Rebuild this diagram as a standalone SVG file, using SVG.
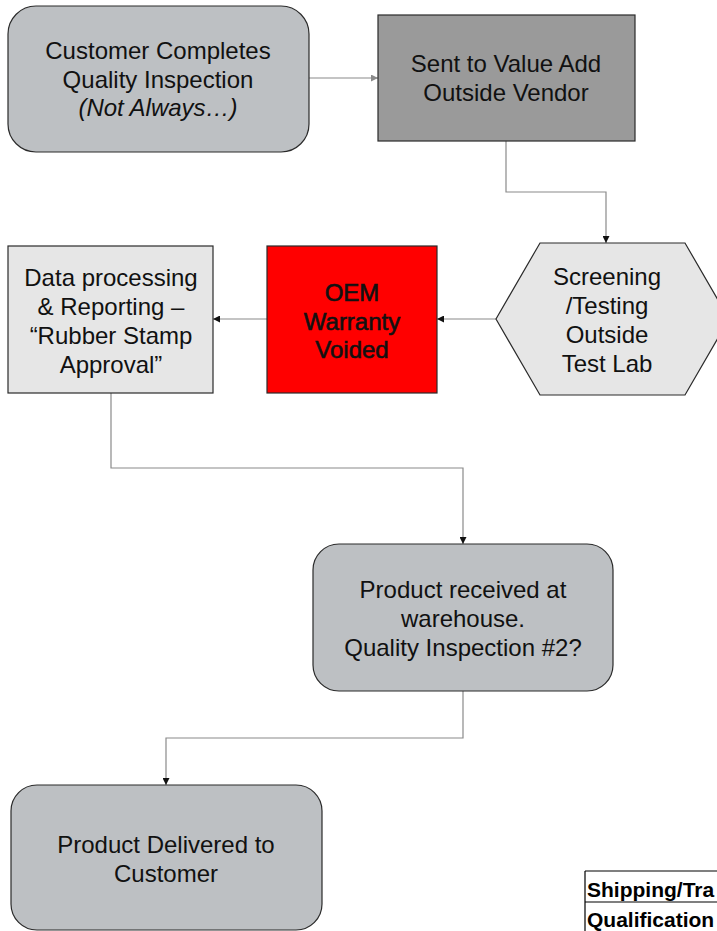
<svg xmlns="http://www.w3.org/2000/svg" width="717" height="931" viewBox="0 0 717 931">
<style>
.t{font-family:"Liberation Sans",Arial,sans-serif;font-size:24px;fill:#111;text-anchor:middle}
.n{stroke:#2a2a2a;stroke-width:1.2}
.c{fill:none;stroke:#8a8a8a;stroke-width:1.2}
.tb{font-family:"Liberation Sans",Arial,sans-serif;font-size:21px;font-weight:bold;fill:#000}
</style>
<defs>
<marker id="a" viewBox="0 0 10 10" refX="10" refY="5" markerWidth="7" markerHeight="7" markerUnits="userSpaceOnUse" orient="auto">
<path d="M0,0 L10,5 L0,10 z" fill="#111"/>
</marker>
<marker id="ag" viewBox="0 0 10 10" refX="10" refY="5" markerWidth="7" markerHeight="7" markerUnits="userSpaceOnUse" orient="auto">
<path d="M0,0 L10,5 L0,10 z" fill="#8a8a8a"/>
</marker>
</defs>
<rect width="717" height="931" fill="#fff"/>
<g id="connectors">
<path class="c" d="M309,78 L378,78" marker-end="url(#ag)"/>
<path class="c" d="M506,141 V192 H606 V243" marker-end="url(#a)"/>
<path class="c" d="M496,319 H437" marker-end="url(#a)"/>
<path class="c" d="M267,319 H213" marker-end="url(#a)"/>
<path class="c" d="M111,393 V468 H463 V544" marker-end="url(#a)"/>
<path class="c" d="M463,691 V738 H166 V785" marker-end="url(#a)"/>
</g>
<g id="customer-inspection">
<rect class="n" x="8" y="6" width="301" height="146" rx="28" fill="#bdc0c3"/>
<text class="t" x="158" y="59">Customer Completes</text>
<text class="t" x="158" y="88">Quality Inspection</text>
<text class="t" x="158" y="116" font-style="italic">(Not Always…)</text>
</g>
<g id="value-add-vendor">
<rect class="n" x="378" y="15" width="257" height="126" fill="#9a9a9a"/>
<text class="t" x="506" y="72">Sent to Value Add</text>
<text class="t" x="506" y="101">Outside Vendor</text>
</g>
<g id="screening">
<polygon class="n" points="540,243 685,243 729,319 685,395 540,395 496,319" fill="#e6e6e6"/>
<text class="t" x="607" y="285">Screening</text>
<text class="t" x="607" y="314">/Testing</text>
<text class="t" x="607" y="343">Outside</text>
<text class="t" x="607" y="372">Test Lab</text>
</g>
<g id="oem-warranty">
<rect class="n" x="267" y="246" width="170" height="147" fill="#ff0000"/>
<text class="t" x="352" y="301" stroke="#111" stroke-width="0.6">OEM</text>
<text class="t" x="352" y="330" stroke="#111" stroke-width="0.6">Warranty</text>
<text class="t" x="352" y="358" stroke="#111" stroke-width="0.6">Voided</text>
</g>
<g id="data-processing">
<rect class="n" x="8" y="246" width="205" height="147" fill="#e6e6e6"/>
<text class="t" x="111" y="286">Data processing</text>
<text class="t" x="111" y="315">&amp; Reporting –</text>
<text class="t" x="111" y="344">“Rubber Stamp</text>
<text class="t" x="111" y="373">Approval”</text>
</g>
<g id="warehouse">
<rect class="n" x="313" y="544" width="300" height="147" rx="26" fill="#bdc0c3"/>
<text class="t" x="463" y="598">Product received at</text>
<text class="t" x="463" y="627">warehouse.</text>
<text class="t" x="463" y="656">Quality Inspection #2?</text>
</g>
<g id="delivered">
<rect class="n" x="11" y="785" width="311" height="145" rx="26" fill="#bdc0c3"/>
<text class="t" x="166" y="853">Product Delivered to</text>
<text class="t" x="166" y="882">Customer</text>
</g>
<g id="table">
<path d="M585,871 H717 M585,902 H717 M585,871 V931" stroke="#000" stroke-width="1.2" fill="none"/>
<text class="tb" x="587" y="897">Shipping/Tra</text>
<text class="tb" x="587" y="927">Qualification</text>
</g>
</svg>
